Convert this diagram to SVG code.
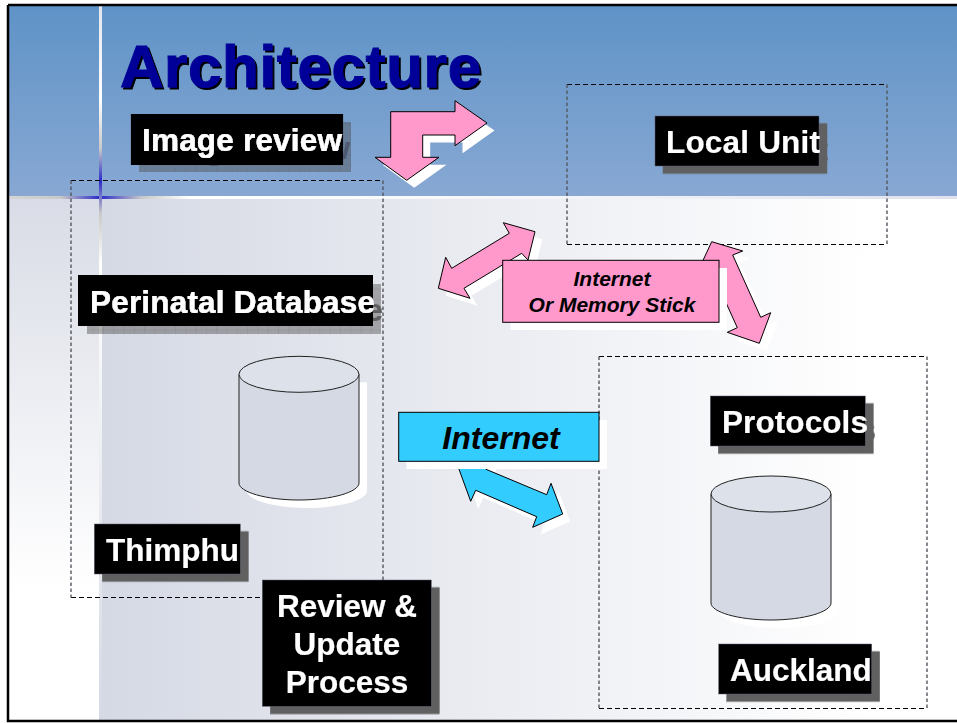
<svg xmlns="http://www.w3.org/2000/svg" width="957" height="723" viewBox="0 0 957 723">
<style>
.lb{fill:#000;stroke:#5a6070;stroke-width:.5}
.t{font-family:"Liberation Sans",Arial,sans-serif;font-weight:bold;font-size:31.5px;fill:#fff;stroke:#fff;stroke-width:.2}
.i{font-family:"Liberation Sans",Arial,sans-serif;font-weight:bold;font-style:italic;fill:#000}
.h{fill:none;stroke:#000;stroke-width:1;stroke-dasharray:5 3}
.v{fill:none;stroke:#55585f;stroke-width:1.4;stroke-dasharray:3.5 2.5}
.pk{fill:#ff99cc;stroke:#000;stroke-width:1}
.bl{fill:#33ccff;stroke:#000;stroke-width:1}
.sh{fill:#fff}
.cy{fill:#d5d9e4;stroke:#222;stroke-width:1}
.ct{fill:#dde1ea;stroke:#222;stroke-width:1}
</style>
<defs>
<linearGradient id="hd" x1="0" y1="0" x2="0" y2="1"><stop offset="0" stop-color="#5f93c7"/><stop offset="1" stop-color="#88a8d3"/></linearGradient>
<linearGradient id="bd" x1="0" y1="0" x2="1" y2="0"><stop offset="0" stop-color="#d5d9e4"/><stop offset=".9" stop-color="#fff"/></linearGradient>
<linearGradient id="ls" x1="0" y1="0" x2="0" y2="1"><stop offset="0" stop-color="#d9dce6"/><stop offset=".75" stop-color="#fff"/></linearGradient>
<linearGradient id="vl" gradientUnits="userSpaceOnUse" x1="0" y1="6" x2="0" y2="720"><stop offset="0" stop-color="#e4e6ee"/><stop offset=".13" stop-color="#fff"/><stop offset=".2" stop-color="#c8c8c8"/><stop offset=".245" stop-color="#2a2ac8"/><stop offset=".29" stop-color="#c8c8c8"/><stop offset=".36" stop-color="#fff"/><stop offset="1" stop-color="#d5d9e4"/></linearGradient>
<linearGradient id="hl" gradientUnits="userSpaceOnUse" x1="9" y1="0" x2="957" y2="0"><stop offset="0" stop-color="#d5d5d5"/><stop offset=".055" stop-color="#c8c8c8"/><stop offset=".096" stop-color="#2a2ac8"/><stop offset=".14" stop-color="#c8c8c8"/><stop offset=".19" stop-color="#fff"/><stop offset=".55" stop-color="#f6f6fa"/><stop offset="1" stop-color="#dfe2ec"/></linearGradient>
<pattern id="gr" patternUnits="userSpaceOnUse" width="10.3" height="10.3"><rect width="10.3" height="10.3" fill="#4b4b4b" fill-opacity=".43"/><path d="M0 0V10.3M0 0H10.3" stroke="#4b4b4b" stroke-opacity=".25" stroke-width="1" fill="none"/></pattern>
<filter id="ds" x="-10%" y="-10%" width="125%" height="130%"><feDropShadow dx="8" dy="7.5" stdDeviation="0" flood-color="#606060"/></filter>
<filter id="ts" x="-5%" y="-5%" width="115%" height="120%"><feDropShadow dx="2" dy="2" stdDeviation="0" flood-color="#000"/></filter>
<filter id="f1" filterUnits="userSpaceOnUse" x="125" y="110" width="240" height="70"><feOffset in="SourceAlpha" dx="8" dy="8" result="o"/><feFlood flood-color="#4f5a70" result="c"/><feComposite in="c" in2="o" operator="in" result="s"/><feFlood flood-color="#000" x="131" y="114.3" width="212" height="50" result="b"/><feMerge><feMergeNode in="s"/><feMergeNode in="b"/><feMergeNode in="SourceGraphic"/></feMerge></filter>
<filter id="f2" filterUnits="userSpaceOnUse" x="70" y="270" width="325" height="70"><feOffset in="SourceAlpha" dx="8" dy="8" result="o"/><feFlood flood-color="#606060" result="c"/><feComposite in="c" in2="o" operator="in" result="s"/><feFlood flood-color="#000" x="78.3" y="275.7" width="294" height="50" result="b"/><feMerge><feMergeNode in="s"/><feMergeNode in="b"/><feMergeNode in="SourceGraphic"/></feMerge></filter>
</defs>
<g id="background">
<rect width="957" height="723" fill="#fff"/>
<rect x="9" y="6" width="948" height="190" fill="url(#hd)"/>
<rect x="99" y="199" width="858" height="521" fill="url(#bd)"/>
<rect x="9" y="199" width="90" height="521" fill="url(#ls)"/>
<rect x="9" y="196" width="948" height="3" fill="url(#hl)"/>
<rect x="99" y="6" width="3" height="714" fill="url(#vl)"/>
<path d="M8 5H957M8 5V721H957" fill="none" stroke="#000" stroke-width="2.5"/>
</g>
<g id="title"><text x="120" y="87" filter="url(#ts)" font-family="'Liberation Sans',Arial,sans-serif" font-weight="bold" font-size="60" fill="#000099" stroke="#000099" stroke-width="1" textLength="361">Architecture</text></g>
<g id="region-thimphu"><path class="h" d="M71 180.5H383M71 597.5H383"/><path class="v" d="M71 180.5V597.5M383 180.5V597.5"/></g>
<g id="region-local"><path class="h" d="M567 84.5H887M567 244.5H887"/><path class="v" d="M567 84.5V244.5M887 84.5V244.5"/></g>
<g id="region-auckland"><path class="h" d="M599 356.5H927M599 708.5H927"/><path class="v" d="M599 356.5V708.5M927 356.5V708.5"/></g>
<g id="connectors">
<g id="bent-arrow">
<polygon class="sh" transform="translate(7.5 7.5)" points="390.7,111.7 455,111.7 455,100.7 487,123 455,145.7 455,135 422.7,135 422.7,157.3 439,157.3 406.7,180.3 375,157.3 390.7,157.3"/>
<polygon class="pk" points="390.7,111.7 455,111.7 455,100.7 487,123 455,145.7 455,135 422.7,135 422.7,157.3 439,157.3 406.7,180.3 375,157.3 390.7,157.3"/>
</g>
<g id="arrow-left">
<polygon class="sh" transform="translate(7.5 7.5)" points="503.3,222.7 535,231.7 528,260 521.7,253.3 464,288.3 470,298.3 438.3,288.3 445.7,257.3 451.7,268.3 509.3,233.3"/>
<polygon class="pk" points="503.3,222.7 535,231.7 528,260 521.7,253.3 464,288.3 470,298.3 438.3,288.3 445.7,257.3 451.7,268.3 509.3,233.3"/>
</g>
<g id="arrow-right">
<polygon class="sh" transform="translate(7.5 7.5)" points="711.7,241.7 742.7,251 732.7,255 760.7,317.3 770.7,312.7 759.3,343.3 727.3,332.3 737.3,327.7 709,265 699,269"/>
<polygon class="pk" points="711.7,241.7 742.7,251 732.7,255 760.7,317.3 770.7,312.7 759.3,343.3 727.3,332.3 737.3,327.7 709,265 699,269"/>
</g>
<g id="arrow-blue">
<polygon class="sh" transform="translate(7.5 7.5)" points="456,461 492,455 486,469.3 546.7,494.7 551,483.3 562.7,514 532.7,527.3 536.7,516.7 475.7,490.3 470.7,501.3"/>
<polygon class="bl" points="456,461 492,455 486,469.3 546.7,494.7 551,483.3 562.7,514 532.7,527.3 536.7,516.7 475.7,490.3 470.7,501.3"/>
</g>
</g>
<g id="internet-stick">
<rect class="sh" x="510.5" y="268" width="216.5" height="62"/>
<rect class="pk" x="502.7" y="260.3" width="216.3" height="62"/>
<text class="i" font-size="21" text-anchor="middle" x="612" y="286">Internet</text>
<text class="i" font-size="21" text-anchor="middle" x="612" y="312">Or Memory Stick</text>
</g>
<g id="internet-blue">
<rect class="sh" x="406.5" y="420" width="200.5" height="49"/>
<rect class="bl" x="398.7" y="412.3" width="200.3" height="49"/>
<text class="i" font-size="32" text-anchor="middle" x="501" y="449.3">Internet</text>
</g>
<g id="db-thimphu">
<path class="sh" transform="translate(8 8)" d="M239 374.3V483C239 492 266 500 299 500S359 492 359 483V374.3Z"/>
<path class="cy" d="M239 374.3V483C239 492 266 500 299 500S359 492 359 483V374.3"/>
<ellipse class="ct" cx="299" cy="374.3" rx="60" ry="18"/>
</g>
<g id="db-auckland">
<path class="sh" transform="translate(8 8)" d="M711 494V603C711 612 738 620 771 620S831 612 831 603V494Z"/>
<path class="cy" d="M711 494V603C711 612 738 620 771 620S831 612 831 603V494"/>
<ellipse class="ct" cx="771" cy="494" rx="60" ry="18"/>
</g>
<g id="image-review">
<rect x="139" y="122" width="212" height="50" fill="url(#gr)"/>
<rect class="lb" x="131" y="114.3" width="212" height="50"/>
<text class="t" x="142" y="151" filter="url(#f1)" textLength="200">Image review</text>
</g>
<g id="local-unit" filter="url(#ds)">
<rect class="lb" x="655" y="116" width="164" height="50"/>
<text class="t" x="666" y="153" textLength="154">Local Unit</text>
</g>
<g id="perinatal-database">
<rect x="87" y="284" width="294" height="50" fill="url(#gr)"/>
<rect class="lb" x="78.3" y="275.7" width="294" height="50"/>
<text class="t" x="90" y="313" filter="url(#f2)" textLength="285">Perinatal Database</text>
</g>
<g id="protocols" filter="url(#ds)">
<rect class="lb" x="710.3" y="396" width="155" height="50"/>
<text class="t" x="722" y="433" textLength="146">Protocols</text>
</g>
<g id="thimphu" filter="url(#ds)">
<rect class="lb" x="94.3" y="524" width="146" height="50"/>
<text class="t" x="106" y="560.5">Thimphu</text>
</g>
<g id="review-update" filter="url(#ds)">
<rect class="lb" x="262.3" y="580" width="169" height="126.3"/>
<text class="t" text-anchor="middle" x="347" y="617">Review &amp;</text>
<text class="t" text-anchor="middle" x="347" y="655">Update</text>
<text class="t" text-anchor="middle" x="347" y="693">Process</text>
</g>
<g id="auckland" filter="url(#ds)">
<rect class="lb" x="718.7" y="644" width="153" height="50"/>
<text class="t" x="730" y="680.5">Auckland</text>
</g>
</svg>
